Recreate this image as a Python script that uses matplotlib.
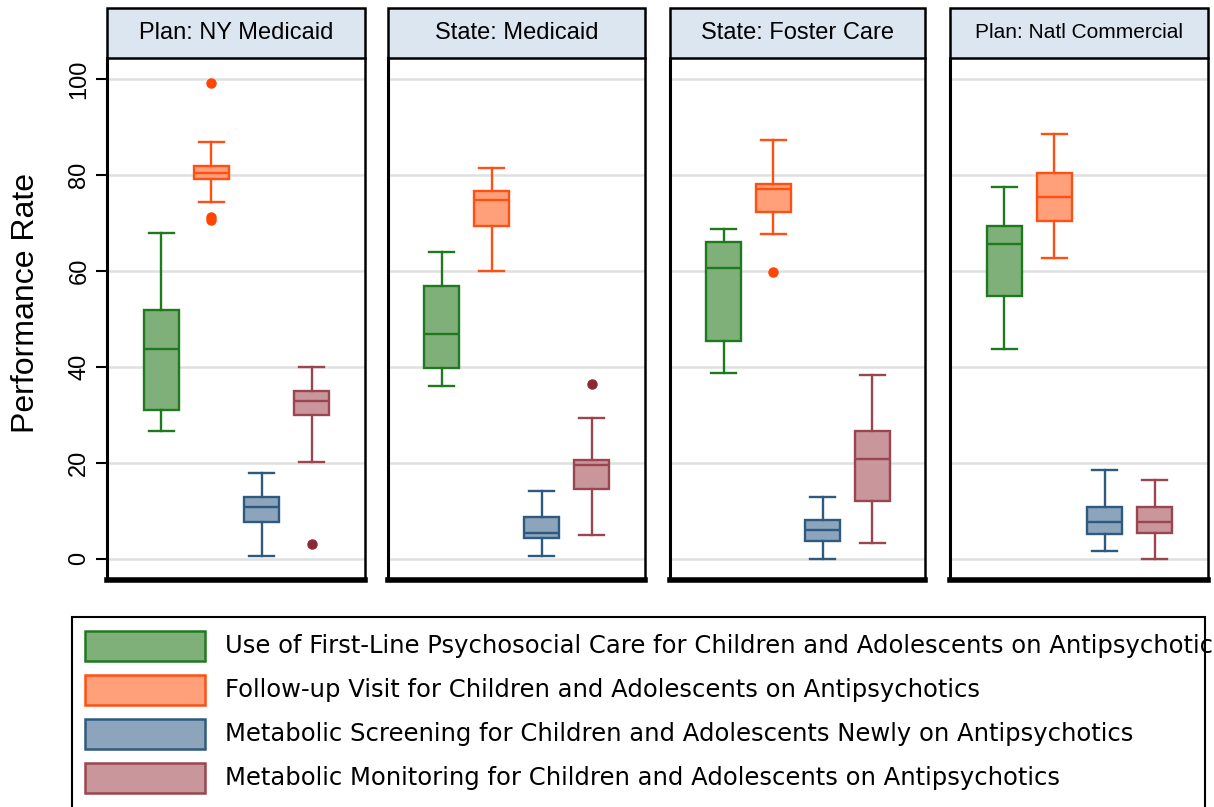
import matplotlib
matplotlib.use("Agg")
import matplotlib.pyplot as plt
from matplotlib.patches import Rectangle

plt.rcParams["font.family"] = ["Liberation Sans", "DejaVu Sans"]

panels = ["Plan: NY Medicaid", "State: Medicaid", "State: Foster Care", "Plan: Natl Commercial"]
measures = [
    "Use of First-Line Psychosocial Care for Children and Adolescents on Antipsychotics",
    "Follow-up Visit for Children and Adolescents on Antipsychotics",
    "Metabolic Screening for Children and Adolescents Newly on Antipsychotics",
    "Metabolic Monitoring for Children and Adolescents on Antipsychotics",
]

# box summaries per panel: low whisker, Q1, median, Q3, high whisker, outliers
first_line_lo = [26.7, 36.0, 38.8, 43.8]
first_line_q1 = [31.1, 39.8, 45.5, 54.7]
first_line_med = [43.8, 46.9, 60.7, 65.7]
first_line_q3 = [51.9, 56.9, 66.1, 69.4]
first_line_hi = [67.9, 64.0, 68.8, 77.6]
first_line_out = [[], [], [], []]

followup_lo = [74.4, 60.1, 67.8, 62.8]
followup_q1 = [79.2, 69.4, 72.2, 70.4]
followup_med = [80.4, 74.9, 77.0, 75.4]
followup_q3 = [81.9, 76.6, 78.2, 80.4]
followup_hi = [86.9, 81.5, 87.4, 88.5]
followup_out = [[99.2, 71.2, 70.6], [], [59.7], []]

screening_lo = [0.6, 0.5, 0.0, 1.7]
screening_q1 = [7.6, 4.3, 3.8, 5.2]
screening_med = [10.8, 5.5, 6.0, 7.7]
screening_q3 = [13.0, 8.8, 8.1, 10.8]
screening_hi = [18.0, 14.2, 13.0, 18.5]
screening_out = [[], [], [], []]

monitoring_lo = [20.2, 4.9, 3.3, 0.0]
monitoring_q1 = [30.0, 14.6, 12.1, 5.4]
monitoring_med = [32.9, 19.6, 20.8, 7.7]
monitoring_q3 = [35.0, 20.7, 26.7, 10.8]
monitoring_hi = [39.9, 29.4, 38.3, 16.4]
monitoring_out = [[3.0], [36.4], [], []]

series = [
    (first_line_lo, first_line_q1, first_line_med, first_line_q3, first_line_hi, first_line_out),
    (followup_lo, followup_q1, followup_med, followup_q3, followup_hi, followup_out),
    (screening_lo, screening_q1, screening_med, screening_q3, screening_hi, screening_out),
    (monitoring_lo, monitoring_q1, monitoring_med, monitoring_q3, monitoring_hi, monitoring_out),
]

edge_colors = ["#1f7a1f", "#ff5014", "#2f5a80", "#9a4550"]
fill_colors = ["#80b07a", "#ffa07a", "#8ca4bc", "#c8969b"]
flier_colors = ["#1f7a1f", "#ff4500", "#2f5a80", "#8b2a35"]

W, H = 1214, 807
fig = plt.figure(figsize=(W / 100, H / 100), dpi=100)

panel_x = [(107, 365), (388, 645), (670, 925), (950, 1208)]
top_px, bottom_px, strip_px = 58, 580, 50

for p, (x0, x1) in enumerate(panel_x):
    ax = fig.add_axes([x0 / W, 1 - bottom_px / H, (x1 - x0) / W, (bottom_px - top_px) / H])
    for m, (lo, q1, med, q3, hi, out) in enumerate(series):
        stats = [dict(whislo=lo[p], q1=q1[p], med=med[p], q3=q3[p], whishi=hi[p], fliers=out[p])]
        ec = edge_colors[m]
        ax.bxp(
            stats,
            positions=[m + 1],
            widths=0.7,
            capwidths=0.5,
            patch_artist=True,
            boxprops=dict(facecolor=fill_colors[m], edgecolor=ec, linewidth=1.7),
            medianprops=dict(color=ec, linewidth=1.7),
            whiskerprops=dict(color=ec, linewidth=1.7),
            capprops=dict(color=ec, linewidth=1.7),
            flierprops=dict(marker="o", markersize=6.5, markerfacecolor=flier_colors[m],
                            markeredgecolor=flier_colors[m]),
            manage_ticks=False,
            zorder=3,
        )
    ax.set_xlim(-0.08, 5.06)
    ax.set_ylim(-4.4, 104.4)
    ax.set_yticks([0, 20, 40, 60, 80, 100])
    ax.yaxis.grid(True, color="#e0e0e0", linewidth=1.8, zorder=0)
    ax.set_axisbelow(True)
    ax.set_xticks([])
    ax.spines["top"].set_visible(False)
    ax.spines["left"].set_linewidth(2.2)
    ax.spines["right"].set_linewidth(1.8)
    ax.spines["bottom"].set_linewidth(4)
    if p == 0:
        ax.tick_params(axis="y", direction="out", length=8, width=1.5, labelsize=17,
                       labelrotation=90, pad=4)
        for lbl in ax.get_yticklabels():
            lbl.set_va("center")
        ax.set_ylabel("Performance Rate", fontsize=23)
        ax.yaxis.set_label_coords(-0.255, 0.53)
    else:
        ax.tick_params(axis="y", left=False, labelleft=False)

    # header strip above each panel
    strip_h = strip_px / (bottom_px - top_px)
    ax.add_patch(Rectangle((0, 1), 1, strip_h, transform=ax.transAxes, facecolor="#dce6f1",
                           edgecolor="black", linewidth=1.8, clip_on=False))
    ax.text(0.5, 1 + strip_h / 2, panels[p], transform=ax.transAxes, ha="center", va="center",
            fontsize=15 if p == 3 else 17)

# legend drawn by hand in pixel positions so the long label can run past the frame
fig.patches.append(Rectangle((72 / W, 1 - 830 / H), (1205 - 72) / W, (830 - 617) / H,
                             transform=fig.transFigure, fill=False, edgecolor="black",
                             linewidth=1.5))
for i, (label, fc, ec) in enumerate(zip(measures, fill_colors, edge_colors)):
    row_top = 631 + 44 * i
    fig.patches.append(Rectangle((85 / W, 1 - (row_top + 30) / H), 120 / W, 30 / H,
                                 transform=fig.transFigure, facecolor=fc, edgecolor=ec,
                                 linewidth=1.8))
    fig.text(225 / W, 1 - (row_top + 15) / H, label, ha="left", va="center",
             fontsize=17.5, family=["DejaVu Sans"])

fig.savefig("out.png", dpi=100)
